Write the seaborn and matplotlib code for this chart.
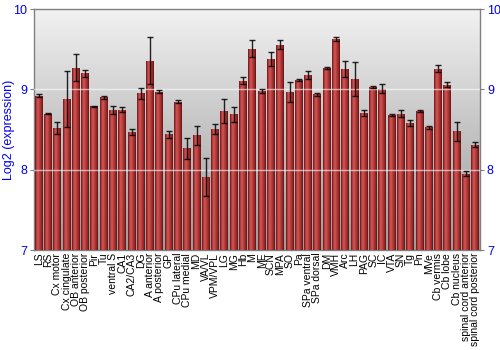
import numpy as np
import pandas as pd
import matplotlib
matplotlib.use("Agg")
import matplotlib.pyplot as plt
from matplotlib.colors import LinearSegmentedColormap
import seaborn as sns

regions = ["LS", "RS", "Cx motor", "Cx cingulate", "OB anterior", "OB posterior", "Pir", "Tu",
           "ventral S", "CA1", "CA2/CA3", "DG", "A anterior", "A posterior", "GP", "CPu lateral",
           "CPu medial", "MD", "VA/VL", "VPM/VPL", "LG", "MG", "Hb", "M", "ME", "SCN", "MPA",
           "SO", "Pa", "SPa ventral", "SPa dorsal", "DM", "VMH", "Arc", "LH", "PAG", "SC", "IC",
           "VTA", "SN", "Tg", "Pn", "MVe", "Cb vermis", "Cb lobe", "Cb nucleus",
           "spinal cord anterior", "spinal cord posterior"]
expression = [8.92, 8.70, 8.52, 8.88, 9.27, 9.20, 8.79, 8.90,
              8.74, 8.75, 8.47, 8.95, 9.36, 8.97, 8.44, 8.85,
              8.27, 8.43, 7.91, 8.51, 8.73, 8.69, 9.11, 9.51, 8.98, 9.38, 9.56,
              8.97, 9.12, 9.18, 8.94, 9.27, 9.63, 9.25, 9.13, 8.71, 9.03, 9.01,
              8.68, 8.70, 8.58, 8.73, 8.53, 9.26, 9.06, 8.48,
              7.95, 8.31]
error = [0.02, 0.01, 0.08, 0.35, 0.17, 0.04, 0.01, 0.02,
         0.05, 0.03, 0.04, 0.07, 0.29, 0.02, 0.04, 0.02,
         0.13, 0.12, 0.24, 0.06, 0.15, 0.09, 0.04, 0.11, 0.03, 0.09, 0.06,
         0.12, 0.01, 0.05, 0.02, 0.01, 0.02, 0.10, 0.21, 0.04, 0.01, 0.06,
         0.01, 0.04, 0.04, 0.01, 0.02, 0.04, 0.03, 0.12,
         0.03, 0.03]
y_ticks = [7, 8, 9, 10]

df = pd.DataFrame({"region": regions, "expression": expression, "error": error})

sns.set_theme(style="white")
plt.rcParams["font.family"] = ["Liberation Sans", "DejaVu Sans"]

fig = plt.figure(figsize=(5, 3.5), dpi=100)
ax = fig.add_axes([0.068, 0.2857, 0.892, 0.688])

sns.barplot(data=df, x="region", y="expression", order=regions, ax=ax,
            color="#b03434", width=0.86, errorbar=None, saturation=1,
            linewidth=0, zorder=2)

ax.set_ylim(7, 10)
ax.set_xlim(-0.5, len(regions) - 0.5)

# background gradient
bg = LinearSegmentedColormap.from_list("bg", ["#9c9c9c", "#c4c4c4", "#f2f2f2"])
grad = np.linspace(0, 1, 256).reshape(-1, 1)
ax.imshow(grad, aspect="auto", cmap=bg, origin="lower",
          extent=[ax.get_xlim()[0], ax.get_xlim()[1], 7, 10], zorder=0)

# cylinder-like gradient on each bar
barcmap = LinearSegmentedColormap.from_list(
    "bar", [(0.0, "#5e1414"), (0.12, "#a33030"), (0.35, "#d25858"),
            (0.6, "#b63a3a"), (0.88, "#8a2222"), (1.0, "#5a1212")])
hgrad = np.linspace(0, 1, 64).reshape(1, -1)
ybot = ax.get_ylim()[0]
for p in ax.patches:
    x0, w, h = p.get_x(), p.get_width(), p.get_height()
    im = ax.imshow(hgrad, aspect="auto", cmap=barcmap,
                   extent=[x0, x0 + w, ybot, h], zorder=3)
    im.set_clip_path(p)

# error bars
xs = [p.get_x() + p.get_width() / 2 for p in ax.patches]
ax.errorbar(xs, df["expression"], yerr=df["error"], fmt="none",
            ecolor="black", elinewidth=1.0, capsize=2.0, capthick=1.0,
            alpha=0.85, zorder=5)

# gridlines
for yv in y_ticks[1:-1]:
    ax.axhline(yv, color="white", lw=1.0, alpha=0.6, zorder=4)

ax.set_xlim(-0.5, len(regions) - 0.5)
ax.set_ylim(7, 10)
ax.set_yticks(y_ticks)
ax.set_yticklabels([str(v) for v in y_ticks])
ax.tick_params(axis="y", left=True, right=True, labelleft=True, labelright=True,
               length=3, width=0.8, color="#808080", labelcolor="#0000ee",
               labelsize=9, pad=2)
ax.tick_params(axis="x", length=0, pad=2)
ax.set_xticks(range(len(regions)))
ax.set_xticklabels(regions, rotation=90, fontsize=7.5, color="black")
ax.set_xlabel("")
ax.set_ylabel("Log2 (expression)", color="#0000ee", fontsize=9)
ax.yaxis.set_label_coords(-0.043, 0.5)
for s in ax.spines.values():
    s.set_visible(True)
    s.set_color("#808080")
    s.set_linewidth(1.0)

fig.savefig("out.png", dpi=100)
